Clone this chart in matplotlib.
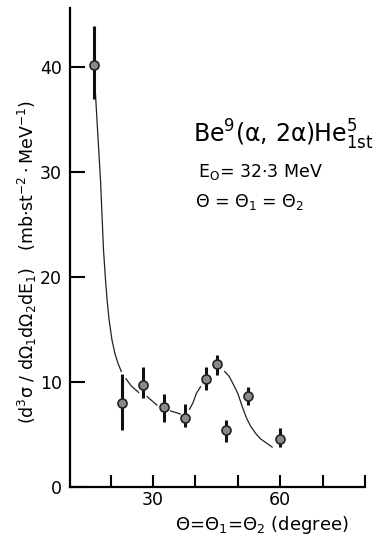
import numpy as np
import matplotlib.pyplot as plt

# Be9(a,2a)He5 1st, E0 = 32.3 MeV, theta = theta1 = theta2
theta = [16, 22.7, 27.7, 32.5, 37.5, 42.5, 45, 47.3, 52.3, 60]
sigma = [40.2, 8.0, 9.7, 7.6, 6.6, 10.3, 11.7, 5.4, 8.7, 4.6]
err_hi = [43.9, 10.8, 11.4, 8.9, 7.9, 11.4, 12.6, 6.4, 9.5, 5.6]
err_lo = [36.9, 5.4, 8.45, 6.2, 5.7, 9.2, 10.7, 4.3, 7.8, 3.8]

# theoretical curve (broken near the data points as in the original)
curve_x = [16.4, 16.9, 17.6, 18.3, 18.8, 19.2, 19.6, 20.3, 21.0, 21.7, 22.5, np.nan,
           23.6, 24.9, 26.6, np.nan,
           28.6, 30.9, np.nan,
           34.1, 36.4, np.nan,
           38.6, 39.4, 40.2, 41.2, np.nan,
           46.9, 48.0, 48.9, 50.0, 51.0, 52.0, 53.0, 54.2, 55.3, 56.7, 58.1]
curve_y = [37.5, 34.0, 29.2, 22.6, 19.6, 17.6, 16.0, 14.0, 12.7, 11.8, 11.0, np.nan,
           10.3, 9.6, 9.0, np.nan,
           8.6, 7.8, np.nan,
           7.25, 6.95, np.nan,
           7.4, 8.0, 8.9, 9.55, np.nan,
           11.0, 10.5, 9.8, 8.9, 7.7, 6.6, 5.8, 5.1, 4.6, 4.2, 3.8]

xticks = [20, 30, 40, 50, 60, 70, 80]
xticklabels = ['', '30', '', '', '60', '', '']
yticks = [0, 10, 20, 30, 40]

fig = plt.figure(figsize=(3.88, 5.40), dpi=100)
ax = fig.add_axes([70/388, 53/540, 295/388, 479/540])

ax.plot(curve_x, curve_y, color='#222222', lw=0.9)

yerr = [np.array(sigma) - np.array(err_lo), np.array(err_hi) - np.array(sigma)]
ax.errorbar(theta, sigma, yerr=yerr, fmt='o', ms=6.5, mfc='#8a8a8a', mec='#222222',
            mew=1.2, ecolor='#111111', elinewidth=2.2, capsize=0, zorder=3)

ax.set_xlim(10.4, 80)
ax.set_ylim(0, 45.6)
ax.set_xticks(xticks)
ax.set_xticklabels(xticklabels)
ax.set_yticks(yticks)
ax.tick_params(direction='in', length=9, width=1.5, labelsize=12.5, pad=3)
ax.tick_params(axis='y', length=11, pad=6)
for s in ['top', 'right']:
    ax.spines[s].set_visible(False)
for s in ['left', 'bottom']:
    ax.spines[s].set_linewidth(1.6)

fig.text(262/388, 1 - 525/540, r'$\Theta$=$\Theta_1$=$\Theta_2$ (degree)',
         fontsize=13, ha='center', va='center')

fig.text(27/388, 1 - 262/540,
         r'(d$^3$σ / dΩ$_1$dΩ$_2$dE$_1$)   (mb$\cdot$st$^{-2}\cdot$MeV$^{-1}$)',
         rotation=90, ha='center', va='center', fontsize=12.5)

fig.text(193/388, 1 - 143/540, r'Be$^9$(α, 2α)He$^5_{1\mathrm{st}}$',
         fontsize=17, ha='left', va='baseline')
fig.text(198/388, 1 - 177/540, r'E$_\mathrm{O}$= 32$\cdot$3 MeV',
         fontsize=12.5, ha='left', va='baseline')
fig.text(195/388, 1 - 207/540, r'$\Theta$ = $\Theta_1$ = $\Theta_2$',
         fontsize=12.5, ha='left', va='baseline')

fig.savefig('out.png', dpi=100)
